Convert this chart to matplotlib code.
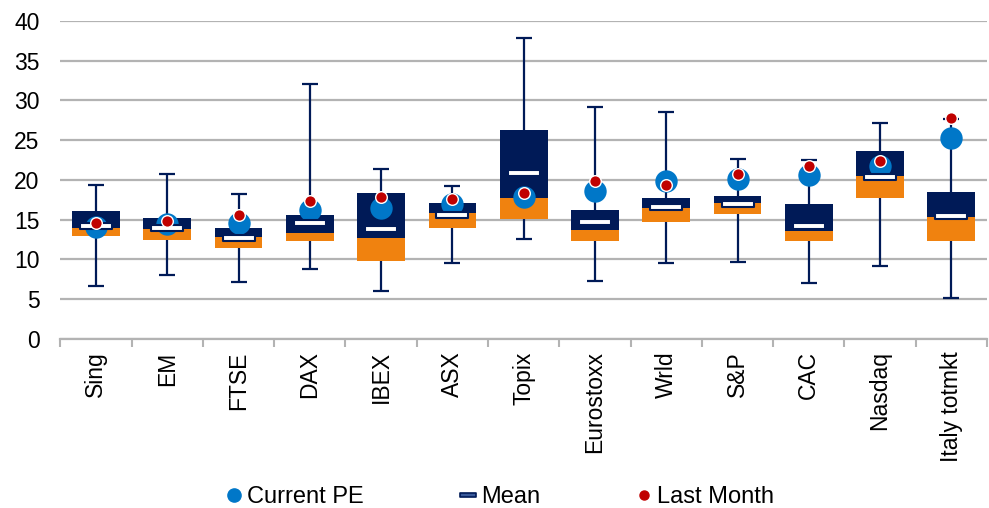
import numpy as np
import matplotlib
matplotlib.use("Agg")
import matplotlib.pyplot as plt
from matplotlib.path import Path
from matplotlib.lines import Line2D

plt.rcParams['font.family'] = ['Liberation Sans', 'DejaVu Sans']

# === Data ===
markets = ['Sing', 'EM', 'FTSE', 'DAX', 'IBEX', 'ASX', 'Topix', 'Eurostoxx',
           'Wrld', 'S&P', 'CAC', 'Nasdaq', 'Italy totmkt']
pe_min = [6.7, 8.0, 7.1, 8.8, 6.0, 9.5, 12.6, 7.3, 9.6, 9.7, 7.0, 9.2, 5.1]
pe_q1 = [12.9, 12.4, 11.4, 12.3, 9.8, 14.0, 15.1, 12.3, 14.7, 15.7, 12.3, 17.7, 12.3]
pe_median = [14.0, 13.8, 12.8, 13.3, 12.7, 15.8, 17.7, 13.7, 16.5, 17.1, 13.6, 20.5, 15.3]
pe_q3 = [16.1, 15.2, 14.0, 15.6, 18.3, 17.1, 26.3, 16.2, 17.7, 18.0, 16.9, 23.6, 18.5]
pe_max = [19.3, 20.7, 18.2, 32.0, 21.4, 19.2, 37.9, 29.1, 28.5, 22.6, 22.5, 27.2, 27.7]
pe_mean = [14.2, 13.9, 12.7, 14.6, 13.8, 15.6, 20.9, 14.7, 16.6, 16.9, 14.2, 20.3, 15.4]
pe_current = [14.1, 14.5, 14.6, 16.2, 16.4, 16.9, 17.8, 18.6, 19.9, 20.1, 20.6, 21.8, 25.2]
pe_last_month = [14.6, 14.8, 15.6, 17.4, 17.8, 17.6, 18.4, 19.8, 19.4, 20.7, 21.8, 22.4, 27.8]

navy = '#001A57'
orange = '#F0820F'
blue = '#0077C8'
red = '#C00000'
grid_grey = '#b3b3b3'

x = np.arange(len(markets))
q1 = np.array(pe_q1)
med = np.array(pe_median)
q3 = np.array(pe_q3)

fig = plt.figure(figsize=(9.89, 5.08), dpi=100)
ax = fig.add_axes([0.061, 0.333, 0.937, 0.626])

# gridlines
ax.yaxis.grid(True, color=grid_grey, linewidth=1.6, zorder=0)
ax.set_axisbelow(True)

# whiskers
ax.errorbar(x, med, yerr=[med - np.array(pe_min), np.array(pe_max) - med],
            fmt='none', ecolor=navy, elinewidth=1.6, capsize=6, capthick=1.6,
            zorder=1)

# boxes: orange q1->median, navy median->q3
ax.bar(x, med - q1, bottom=q1, width=0.67, color=orange, zorder=2)
ax.bar(x, q3 - med, bottom=med, width=0.67, color=navy, zorder=2)

# markers
ax.scatter(x, pe_current, s=260, color=blue, zorder=3, linewidths=0)
dash = Path([(-1, -0.2), (1, -0.2), (1, 0.2), (-1, 0.2), (-1, -0.2)],
            [Path.MOVETO, Path.LINETO, Path.LINETO, Path.LINETO, Path.CLOSEPOLY])
ax.scatter(x, pe_mean, marker=dash, s=520, color='white', edgecolors=navy,
           linewidths=1.5, zorder=4)
ax.scatter(x, pe_last_month, s=70, color=red, edgecolors='white',
           linewidths=1.0, zorder=5)

ax.set_xlim(-0.5, len(markets) - 0.5)
ax.set_ylim(0, 40)
ax.set_yticks(range(0, 41, 5))
ax.set_xticks(x)
ax.set_xticklabels(markets, rotation=90, fontsize=16.5)
ax.set_xticks(np.arange(-0.5, len(markets), 1), minor=True)
ax.tick_params(axis='x', which='major', length=0, pad=9)
ax.tick_params(axis='x', which='minor', length=6, width=1.5, color=grid_grey)
ax.tick_params(axis='y', length=0, labelsize=16.5, pad=15)

for side in ['top', 'right', 'left']:
    ax.spines[side].set_visible(False)
ax.spines['bottom'].set_color(grid_grey)
ax.spines['bottom'].set_linewidth(1.6)

handles = [
    Line2D([], [], linestyle='none', marker='o', markersize=9.5, color=blue),
    Line2D([], [], linestyle='none', marker=dash, markersize=11,
           markerfacecolor='#3a5a9a', markeredgecolor=navy, markeredgewidth=1.2),
    Line2D([], [], linestyle='none', marker='o', markersize=6.5, color=red),
]
fig.legend(handles, ['Current PE', 'Mean', 'Last Month'], loc='center',
           bbox_to_anchor=(0.505, 0.022), ncol=3, frameon=False, fontsize=17,
           handletextpad=0.15, columnspacing=4.0, handlelength=0.8)

fig.savefig('out.png', dpi=100)
